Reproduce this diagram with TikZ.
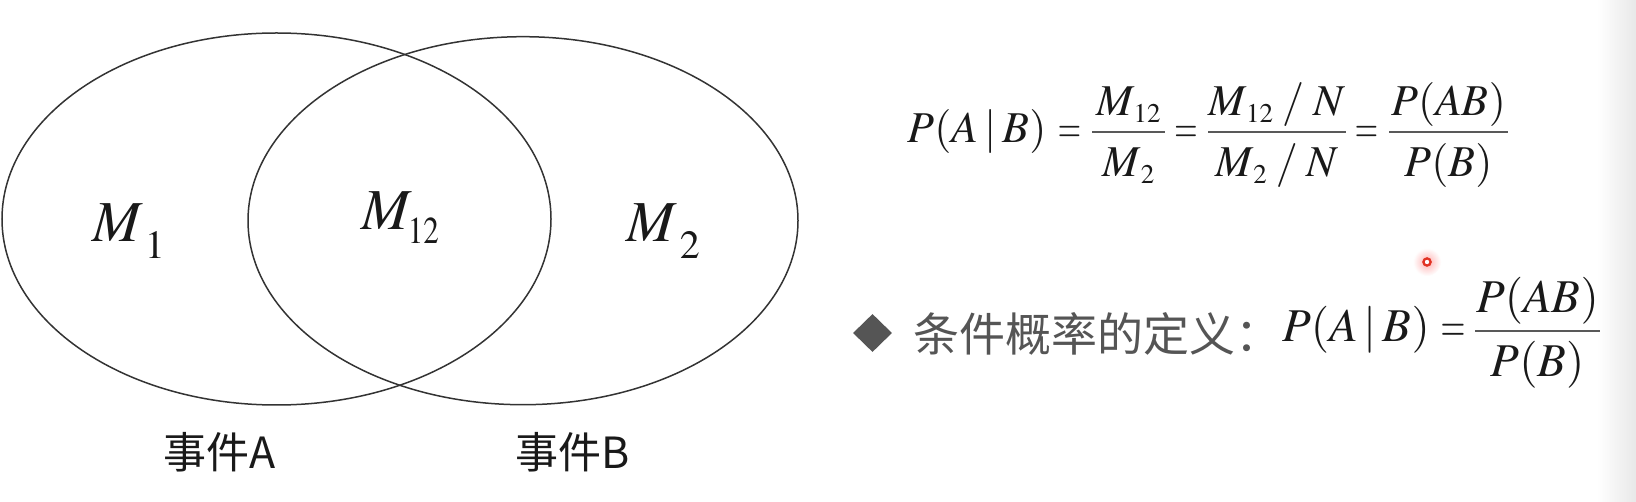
\documentclass[tikz,border=0pt]{standalone}
\usepackage{mathptmx}
\usepackage[no-math]{fontspec}
\newfontfamily\cjk{Noto Sans CJK SC}
\usetikzlibrary{shapes.geometric}
\definecolor{txtgray}{RGB}{85,85,85}
\definecolor{ink}{RGB}{25,25,25}
\definecolor{ptred}{RGB}{225,50,35}
\newcommand\fsz[1]{\fontsize{#1}{#1}\selectfont}
\newcommand\lsub[3]{\raisebox{#1}{\fontsize{#2}{#2}\selectfont $#3$}}
\newcommand\eqs{\scalebox{0.68}[1]{$=$}}
\tikzset{
  lab/.style={inner sep=0pt, anchor=base, text=ink},
  venn/.style={ellipse, draw=black!80, line width=1.5pt, inner sep=0pt},
  fbar/.style={line width=2pt, draw=black!65},
  evlab/.style={inner sep=0pt, anchor=center, text=ink}
}
\begin{document}
\begin{tikzpicture}[x=1pt,y=-1pt]
\fill[white] (0,0) rectangle (1636,502);
\useasboundingbox (0,0) rectangle (1636,502);
\shade[left color=white,right color=black!9] (1597,0) rectangle (1636,502);

% Venn diagram
\node[venn, minimum width=549pt, minimum height=372pt] (evA) at (276.5,219) {};
\node[venn, minimum width=550pt, minimum height=368pt] (evB) at (523,220.7) {};

\node[lab, anchor=base west] (m1) at (92,242) {\fsz{58}$M$\kern2pt\lsub{-17pt}{40}{1}};
\node[lab, anchor=base west] (m12) at (361,230) {\fsz{58}$M$\kern-4pt\lsub{-14pt}{38}{\scalebox{0.82}[1]{$12$}}};
\node[lab, anchor=base west] (m2) at (626,242) {\fsz{58}$M$\kern3pt\lsub{-17pt}{40}{2}};

\node[evlab] (la) at (219.5,452) {\cjk\fsz{43}事件A};
\node[evlab] (lb) at (572.5,452) {\cjk\fsz{43}事件B};

% top formula
\node[lab] (t1) at (977,143) {\fsz{44}$P(A\kern6pt|\kern6pt B)$};
\node[lab] (te1) at (1069.5,143) {\fsz{44}\eqs};
\node[lab] (tn1) at (1128.5,116) {\fsz{44}$M$\kern-1pt\lsub{-7pt}{27}{12}};
\node[lab] (td1) at (1128.5,177) {\fsz{44}$M$\lsub{-7pt}{27}{2}};
\coordinate (b1l) at (1092,132); \coordinate (b1r) at (1165,132);
\draw[fbar] (b1l) -- (b1r);
\node[lab] (te2) at (1186,143) {\fsz{44}\eqs};
\node[lab] (tn2) at (1277,116) {\fsz{44}$M$\kern-1pt\lsub{-7pt}{27}{12}\kern9pt$/$\kern9pt$N$};
\node[lab] (td2) at (1277,177) {\fsz{44}$M$\lsub{-7pt}{27}{2}\kern9pt$/$\kern9pt$N$};
\coordinate (b2l) at (1208,132); \coordinate (b2r) at (1346,132);
\draw[fbar] (b2l) -- (b2r);
\node[lab] (te3) at (1366.5,143) {\fsz{44}\eqs};
\node[lab] (tn3) at (1448.5,116) {\fsz{44}$P(AB)$};
\node[lab] (td3) at (1448.5,177) {\fsz{44}$P(B)$};
\coordinate (b3l) at (1389,132); \coordinate (b3r) at (1508,132);
\draw[fbar] (b3l) -- (b3r);

% definition line
\node[diamond, fill=txtgray, minimum width=39pt, minimum height=38pt, inner sep=0pt] (bul) at (872.5,333) {};
\node[inner sep=0pt, anchor=west, text=txtgray] (def) at (913,334) {\cjk\fsz{46}条件概率的定义：};
\node[lab] (d1) at (1356,342) {\fsz{47}$P(A\kern6pt|\kern6pt B)$};
\node[lab] (de) at (1453,342) {\fsz{47}\eqs};
\node[lab] (dn) at (1537.5,313) {\fsz{47}$P(AB)$};
\node[lab] (dd) at (1537.5,377) {\fsz{47}$P(B)$};
\coordinate (b4l) at (1475,331); \coordinate (b4r) at (1600,331);
\draw[fbar] (b4l) -- (b4r);

% laser pointer dot
\coordinate (ptr) at (1427,262);
\shade[inner color=red!30, outer color=white] (ptr) circle (14pt);
\draw[draw=ptred, line width=2.3pt, fill=white] (ptr) circle (3.6pt);
\end{tikzpicture}
\end{document}
